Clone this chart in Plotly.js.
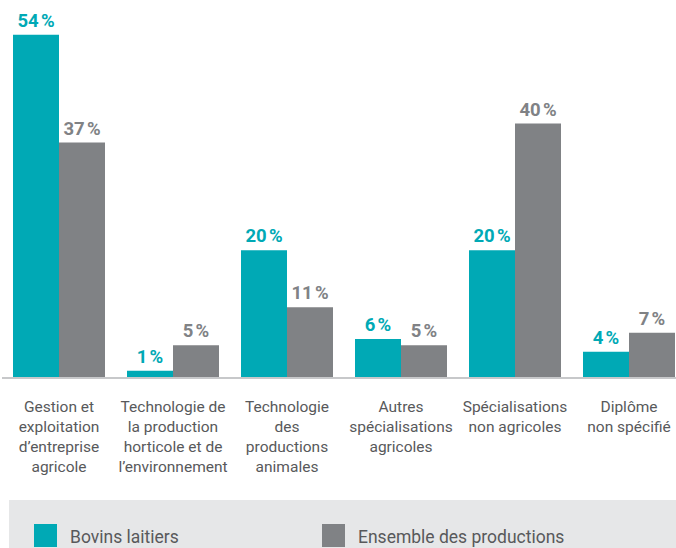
<!DOCTYPE html>
<html>
<head>
<meta charset="utf-8">
<script src="https://cdn.plot.ly/plotly-3.0.1.min.js"></script>
<style>html,body{margin:0;padding:0;background:#fff;}#chart{width:676px;height:548px;}</style>
</head>
<body>
<div id="chart"></div>
<script>
const categories = [
  "Gestion et<br>exploitation<br>d’entreprise<br>agricole",
  "Technologie de<br>la production<br>horticole et de<br>l’environnement",
  "Technologie<br>des<br>productions<br>animales",
  "Autres<br>spécialisations<br>agricoles",
  "Spécialisations<br>non agricoles",
  "Diplôme<br>non spécifié"
];
const seriesNames = ["Bovins laitiers", "Ensemble des productions"];
const bovinsLaitiers = [54, 1, 20, 6, 20, 4];
const ensembleProductions = [37, 5, 11, 5, 40, 7];
const colors = ["#00a9b5", "#808285"];

const FONT = "Roboto, sans-serif";
const W = 676, H = 548, L = 2, R = 0, T = 0, B = 171;
const pw = W - L - R, ph = H - T - B;
const px = x => (x - L) / pw;
const py = y => (ph + T - y) / ph;

function fmt(v){ return v + "\u202f%"; }

const traces = [bovinsLaitiers, ensembleProductions].map((vals, i) => ({
  type: "bar",
  name: seriesNames[i],
  x: categories,
  y: vals,
  marker: {color: colors[i]},
  text: vals.map(fmt),
  textposition: "outside",
  cliponaxis: false,
  textfont: {family: FONT, size: 18.5, color: colors[i], weight: "bold"},
  hoverinfo: "none"
}));

const legendBox = {type: "rect", xref: "paper", yref: "paper",
  x0: px(9), x1: px(690), y0: py(500), y1: py(560),
  fillcolor: "#e6e7e8", line: {width: 0}, layer: "below"};
const legendSquares = [34, 322].map((x, i) => ({type: "rect", xref: "paper", yref: "paper",
  x0: px(x), x1: px(x + 23), y0: py(524), y1: py(547),
  fillcolor: colors[i], line: {width: 0}}));
const legendTexts = [68, 356].map((x, i) => ({xref: "paper", yref: "paper",
  x: px(x), y: py(537), xanchor: "left", yanchor: "middle", showarrow: false,
  text: seriesNames[i], font: {family: FONT, size: 17.5, color: "#58595b"}}));

const layout = {
  width: W, height: H,
  margin: {l: L, r: R, t: T, b: B, pad: 0},
  paper_bgcolor: "#ffffff", plot_bgcolor: "#ffffff",
  barmode: "group", bargap: 0.193, bargroupgap: 0,
  showlegend: false,
  xaxis: {
    type: "category",
    range: [-0.5, -0.5 + pw / 114],
    showline: true, linecolor: "#c7c8ca", linewidth: 2,
    showgrid: false, zeroline: false,
    tickangle: 0,
    ticks: "outside", ticklen: 14, tickcolor: "rgba(0,0,0,0)",
    tickfont: {family: FONT, size: 15.5, color: "#58595b"},
    fixedrange: true
  },
  yaxis: {
    range: [0, 59.5], visible: false, showgrid: false, zeroline: false, fixedrange: true
  },
  shapes: [legendBox, ...legendSquares],
  annotations: legendTexts,
  font: {family: FONT}
};

Plotly.newPlot("chart", traces, layout, {displayModeBar: false, staticPlot: true});
</script>
</body>
</html>
